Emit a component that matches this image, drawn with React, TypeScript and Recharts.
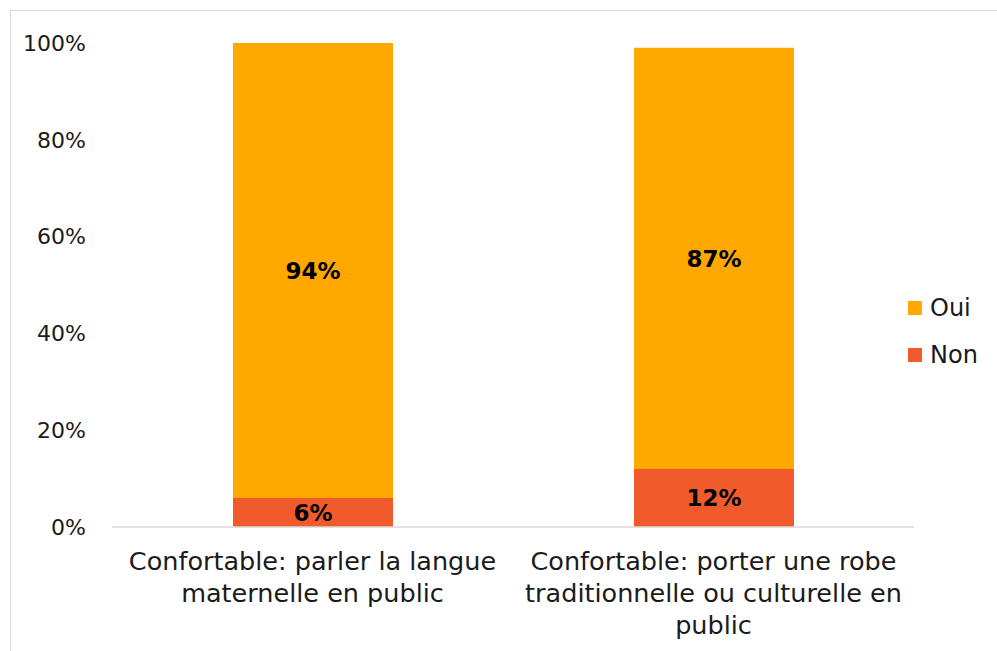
import { BarChart, Bar, XAxis, YAxis, LabelList } from 'recharts';

const categories = ['Confortable: parler la langue maternelle en public', 'Confortable: porter une robe traditionnelle ou culturelle en public'];
const categoryLines = [
    ['Confortable: parler la langue', 'maternelle en public'],
    ['Confortable: porter une robe', 'traditionnelle ou culturelle en', 'public'],
];
const nonValues = [6, 12];
const ouiValues = [94, 87];
const yTicks = [0, 20, 40, 60, 80, 100];

const seriesInfo = [
    { key: 'oui', name: 'Oui', color: '#FFA800' },
    { key: 'non', name: 'Non', color: '#F15A2B' },
];

const data = categories.map((c, i) => ({ category: c, non: nonValues[i], oui: ouiValues[i] }));

const FONT = '"DejaVu Sans", sans-serif';
const TEXT = '#1a1a1a';

const CategoryTick = (props: any) => {
    const { x, y, payload } = props;
    const lines = categoryLines[categories.indexOf(payload.value)] || [payload.value];
    return (
        <text x={x} y={y + 43} textAnchor="middle" fontSize={25.5} fontFamily={FONT} fill={TEXT}>
            {lines.map((l, i) => (
                <tspan key={i} x={x} dy={i === 0 ? 0 : 32}>{l}</tspan>
            ))}
        </text>
    );
};

const App = () => {
    return (
        <div style={{ position: 'fixed', left: 0, top: 0, width: 997, height: 651, overflow: 'hidden', background: '#fff', fontFamily: FONT }}>
            <div style={{ position: 'absolute', left: 10, top: 10, width: 1000, height: 700, border: '1px solid #d9d9d9' }} />
            <div style={{ position: 'absolute', left: 0, top: 0 }}>
                <BarChart width={997} height={651} data={data} margin={{ top: 43, right: 83, left: 0, bottom: 94 }}>
                    <XAxis
                        dataKey="category"
                        height={30}
                        axisLine={{ stroke: '#d9d9d9', strokeWidth: 1.5 }}
                        tickLine={false}
                        tickSize={0}
                        tickMargin={0}
                        tick={<CategoryTick />}
                        interval={0}
                    />
                    <YAxis
                        width={112}
                        domain={[0, 100]}
                        ticks={yTicks}
                        tickFormatter={(v: number) => `${v}%`}
                        axisLine={false}
                        tickLine={false}
                        tickSize={0}
                        tickMargin={26}
                        tick={{ fontSize: 22, fill: TEXT, fontFamily: FONT }}
                    />
                    <Bar dataKey="non" name="Non" stackId="a" fill="#F15A2B" barSize={160} isAnimationActive={false}>
                        <LabelList dataKey="non" position="center" formatter={(v: any) => `${v}%`} fill="#000" fontSize={23} fontWeight="bold" fontFamily={FONT} />
                    </Bar>
                    <Bar dataKey="oui" name="Oui" stackId="a" fill="#FFA800" barSize={160} isAnimationActive={false}>
                        <LabelList dataKey="oui" position="center" formatter={(v: any) => `${v}%`} fill="#000" fontSize={23} fontWeight="bold" fontFamily={FONT} />
                    </Bar>
                </BarChart>
            </div>
            <div style={{ position: 'absolute', left: 908, top: 292 }}>
                {seriesInfo.map((s) => (
                    <div key={s.key} style={{ display: 'flex', alignItems: 'center', height: 32, marginBottom: 15 }}>
                        <div style={{ width: 14, height: 14, background: s.color, marginRight: 8 }} />
                        <span style={{ fontSize: 24, color: TEXT }}>{s.name}</span>
                    </div>
                ))}
            </div>
        </div>
    );
};

export default App;
